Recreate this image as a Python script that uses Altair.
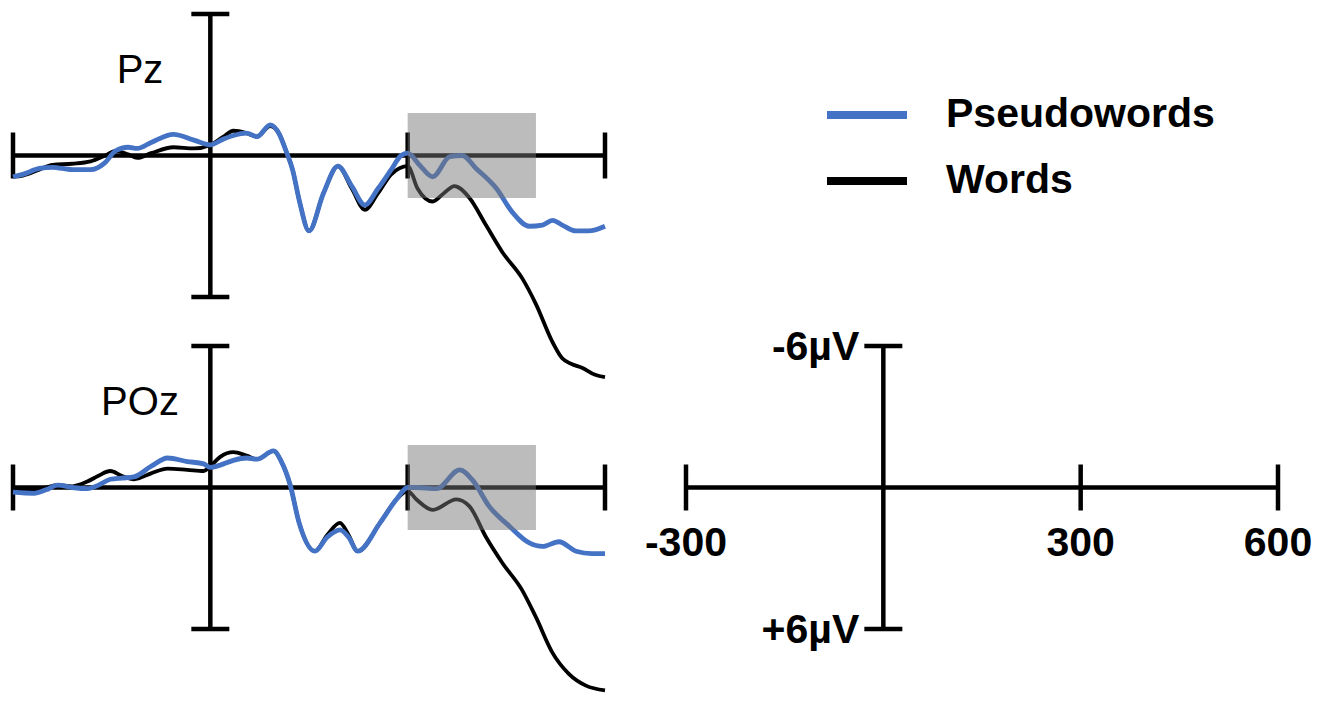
import altair as alt
import pandas as pd

FONT = "Liberation Sans"

conditions = ["Pseudowords", "Words"]
colors = ["#4472C4", "#000000"]
panel_names = ["Pz", "POz"]

# ---- Pz ----
pz_words_t = [-300, -285, -260, -240, -210, -182, -160, -144, -125, -111, -90, -56, -25, 0, 20, 35, 55, 71, 91,
              105, 115, 125, 136, 150, 172, 194, 215, 235, 255, 275, 300, 315, 338, 355, 371, 394, 419, 444,
              474, 495, 520, 535, 550, 565, 585, 600]
pz_words_v = [0.9, 0.85, 0.6, 0.4, 0.35, 0.25, 0.0, -0.2, -0.05, 0.1, -0.1, -0.35, -0.3, -0.45, -0.8, -1.05,
              -0.95, -0.8, -1.25, -0.9, -0.2, 0.6, 2.0, 3.2, 1.6, 0.45, 1.4, 2.3, 1.6, 0.8, 0.45, 1.4, 1.95,
              1.6, 1.3, 1.8, 2.95, 4.1, 5.2, 6.3, 7.9, 8.6, 8.85, 9.0, 9.3, 9.4]
pz_pseudo_t = [-300, -285, -260, -240, -210, -182, -160, -144, -125, -111, -90, -56, -25, 0, 20, 35, 55, 71, 91,
               105, 115, 125, 136, 150, 172, 194, 215, 235, 255, 275, 290, 300, 318, 338, 364, 383, 404, 435,
               459, 485, 505, 520, 535, 556, 575, 600]
pz_pseudo_v = [0.9, 0.8, 0.55, 0.5, 0.6, 0.6, 0.3, -0.2, -0.35, -0.3, -0.55, -0.9, -0.65, -0.45, -0.7, -0.85,
               -0.95, -0.8, -1.3, -0.9, -0.2, 0.6, 2.0, 3.2, 1.6, 0.45, 1.3, 2.1, 1.4, 0.6, 0.0, -0.1, 0.4,
               0.9, 0.05, 0.0, 0.55, 1.4, 2.4, 3.0, 2.95, 2.75, 2.95, 3.2, 3.2, 3.0]

# ---- POz ----
poz_words_t = [-300, -268, -250, -232, -210, -187, -170, -152, -135, -116, -90, -65, -35, -10, 0, 15, 35, 55, 71,
               96, 108, 121, 135, 159, 178, 197, 210, 224, 258, 283, 300, 313, 338, 374, 394, 419, 444, 474,
               495, 520, 545, 571, 600]
poz_words_v = [0.1, 0.1, 0.0, -0.1, -0.05, -0.25, -0.5, -0.7, -0.5, -0.35, -0.6, -0.8, -0.75, -0.7, -0.9, -1.3,
               -1.5, -1.35, -1.2, -1.55, -1.1, -0.15, 1.5, 2.7, 2.0, 1.5, 2.0, 2.7, 1.5, 0.5, 0.15, 0.5, 0.95,
               0.5, 0.8, 2.1, 3.2, 4.35, 5.5, 7.0, 7.9, 8.4, 8.6]
poz_pseudo_t = [-300, -268, -250, -232, -210, -187, -170, -152, -135, -116, -90, -65, -35, -10, 0, 15, 35, 55, 71,
                96, 108, 121, 135, 159, 178, 197, 210, 224, 258, 283, 300, 313, 344, 379, 399, 424, 455, 485,
                505, 530, 556, 580, 600]
poz_pseudo_v = [0.2, 0.25, 0.1, -0.1, 0.0, 0.05, -0.1, -0.35, -0.4, -0.45, -0.9, -1.25, -1.1, -1.0, -0.85,
                -0.95, -1.15, -1.25, -1.2, -1.55, -1.1, -0.15, 1.5, 2.7, 2.1, 1.8, 2.1, 2.7, 1.5, 0.5, 0.0, 0.0,
                0.05, -0.75, -0.3, 0.8, 1.65, 2.35, 2.5, 2.3, 2.7, 2.8, 2.8]

# ---- axes / scale bar ----
x_ticks = [-300, 300, 600]
x_tick_labels = ["-300", "300", "600"]
y_ticks = [-6, 6]
y_tick_labels = ["-6µV", "+6µV"]
window_start, window_end = 300, 495
window_low, window_high = -1.8, 1.8

series = {
    ("Pz", "Words"): (pz_words_t, pz_words_v),
    ("Pz", "Pseudowords"): (pz_pseudo_t, pz_pseudo_v),
    ("POz", "Words"): (poz_words_t, poz_words_v),
    ("POz", "Pseudowords"): (poz_pseudo_t, poz_pseudo_v),
}
rows = []
for (panel, cond), (ts, vs) in series.items():
    for t, v in zip(ts, vs):
        rows.append({"panel": panel, "cond": cond, "t": t, "v": v})
lines_df = pd.DataFrame(rows)

W, H = 592, 283
AX_W = 4.5

xs = alt.Scale(domain=[min(x_ticks), max(x_ticks)], nice=False, zero=False)
ys = alt.Scale(domain=[min(y_ticks), max(y_ticks)], reverse=True, nice=False, zero=False)

legend = alt.Legend(title=None, orient="none", legendX=810, legendY=57, direction="vertical",
                    symbolType="stroke", symbolSize=6400, symbolStrokeWidth=8,
                    labelFont=FONT, labelFontSize=41, labelFontWeight="bold", labelColor="black",
                    labelOffset=35, rowPadding=2, padding=0, labelLimit=500)
color = alt.Color("cond:N", scale=alt.Scale(domain=conditions, range=colors), legend=legend)


def axes_layers():
    h_axis = alt.Chart(pd.DataFrame({"t": [min(x_ticks)], "t2": [max(x_ticks)], "v": [0]})).mark_rule(
        color="black", strokeWidth=AX_W, strokeJoin="round").encode(
        x=alt.X("t:Q", scale=xs, axis=None), x2="t2:Q", y=alt.Y("v:Q", scale=ys, axis=None))
    v_axis = alt.Chart(pd.DataFrame({"t": [0], "v": [min(y_ticks)], "v2": [max(y_ticks)]})).mark_rule(
        color="black", strokeWidth=AX_W, strokeJoin="round").encode(
        x=alt.X("t:Q", scale=xs, axis=None), y=alt.Y("v:Q", scale=ys, axis=None), y2="v2:Q")
    xt = alt.Chart(pd.DataFrame({"t": x_ticks, "v": [0] * len(x_ticks)})).mark_tick(
        orient="vertical", size=46, thickness=AX_W, color="black", opacity=1).encode(
        x=alt.X("t:Q", scale=xs, axis=None), y=alt.Y("v:Q", scale=ys, axis=None))
    yt = alt.Chart(pd.DataFrame({"t": [0] * len(y_ticks), "v": y_ticks})).mark_tick(
        orient="horizontal", size=38, thickness=AX_W, color="black", opacity=1).encode(
        x=alt.X("t:Q", scale=xs, axis=None), y=alt.Y("v:Q", scale=ys, axis=None))
    return [h_axis, v_axis, xt, yt]


def erp_panel(name):
    base = alt.Chart(lines_df).transform_filter(alt.datum.panel == name)
    black = base.transform_filter(alt.datum.cond == "Words").mark_line(
        strokeWidth=3.8, interpolate="monotone", strokeJoin="round").encode(
        x=alt.X("t:Q", scale=xs, axis=None), y=alt.Y("v:Q", scale=ys, axis=None), color=color)
    blue = base.transform_filter(alt.datum.cond == "Pseudowords").mark_line(
        strokeWidth=4.8, interpolate="monotone", strokeJoin="round").encode(
        x=alt.X("t:Q", scale=xs, axis=None), y=alt.Y("v:Q", scale=ys, axis=None), color=color)
    box = alt.Chart(pd.DataFrame({"t": [window_start], "t2": [window_end],
                                  "v": [window_low], "v2": [window_high]})).mark_rect(
        color="#777777", opacity=0.49).encode(
        x=alt.X("t:Q", scale=xs, axis=None), x2="t2:Q", y=alt.Y("v:Q", scale=ys, axis=None), y2="v2:Q")
    label = alt.Chart(pd.DataFrame({"label": [name]})).mark_text(
        font=FONT, fontSize=40, align="center", baseline="middle", color="black").encode(
        text="label:N", x=alt.value(127), y=alt.value(57))
    return alt.layer(*axes_layers(), black, blue, box, label).properties(width=W, height=H)


def scale_panel():
    xl = alt.Chart(pd.DataFrame({"t": x_ticks, "v": [0] * len(x_ticks), "lab": x_tick_labels})).mark_text(
        font=FONT, fontSize=41, fontWeight="bold", align="center", baseline="middle", dy=56,
        color="black").encode(
        x=alt.X("t:Q", scale=xs, axis=None), y=alt.Y("v:Q", scale=ys, axis=None), text="lab:N")
    yl = alt.Chart(pd.DataFrame({"t": [0] * len(y_ticks), "v": y_ticks, "lab": y_tick_labels})).mark_text(
        font=FONT, fontSize=41, fontWeight="bold", align="right", baseline="middle", dx=-24, dy=2,
        color="black").encode(
        x=alt.X("t:Q", scale=xs, axis=None), y=alt.Y("v:Q", scale=ys, axis=None), text="lab:N")
    return alt.layer(*axes_layers(), xl, yl).properties(width=W, height=H)


chart = alt.vconcat(
    erp_panel("Pz"),
    alt.hconcat(erp_panel("POz"), scale_panel(), spacing=81, bounds="flush"),
    spacing=49, bounds="flush",
).properties(
    padding={"left": 2, "top": 3, "right": 5, "bottom": 0},
    background="white",
).configure_view(stroke="transparent")

chart.save("out.html", embed_options={"renderer": "svg", "actions": False})
